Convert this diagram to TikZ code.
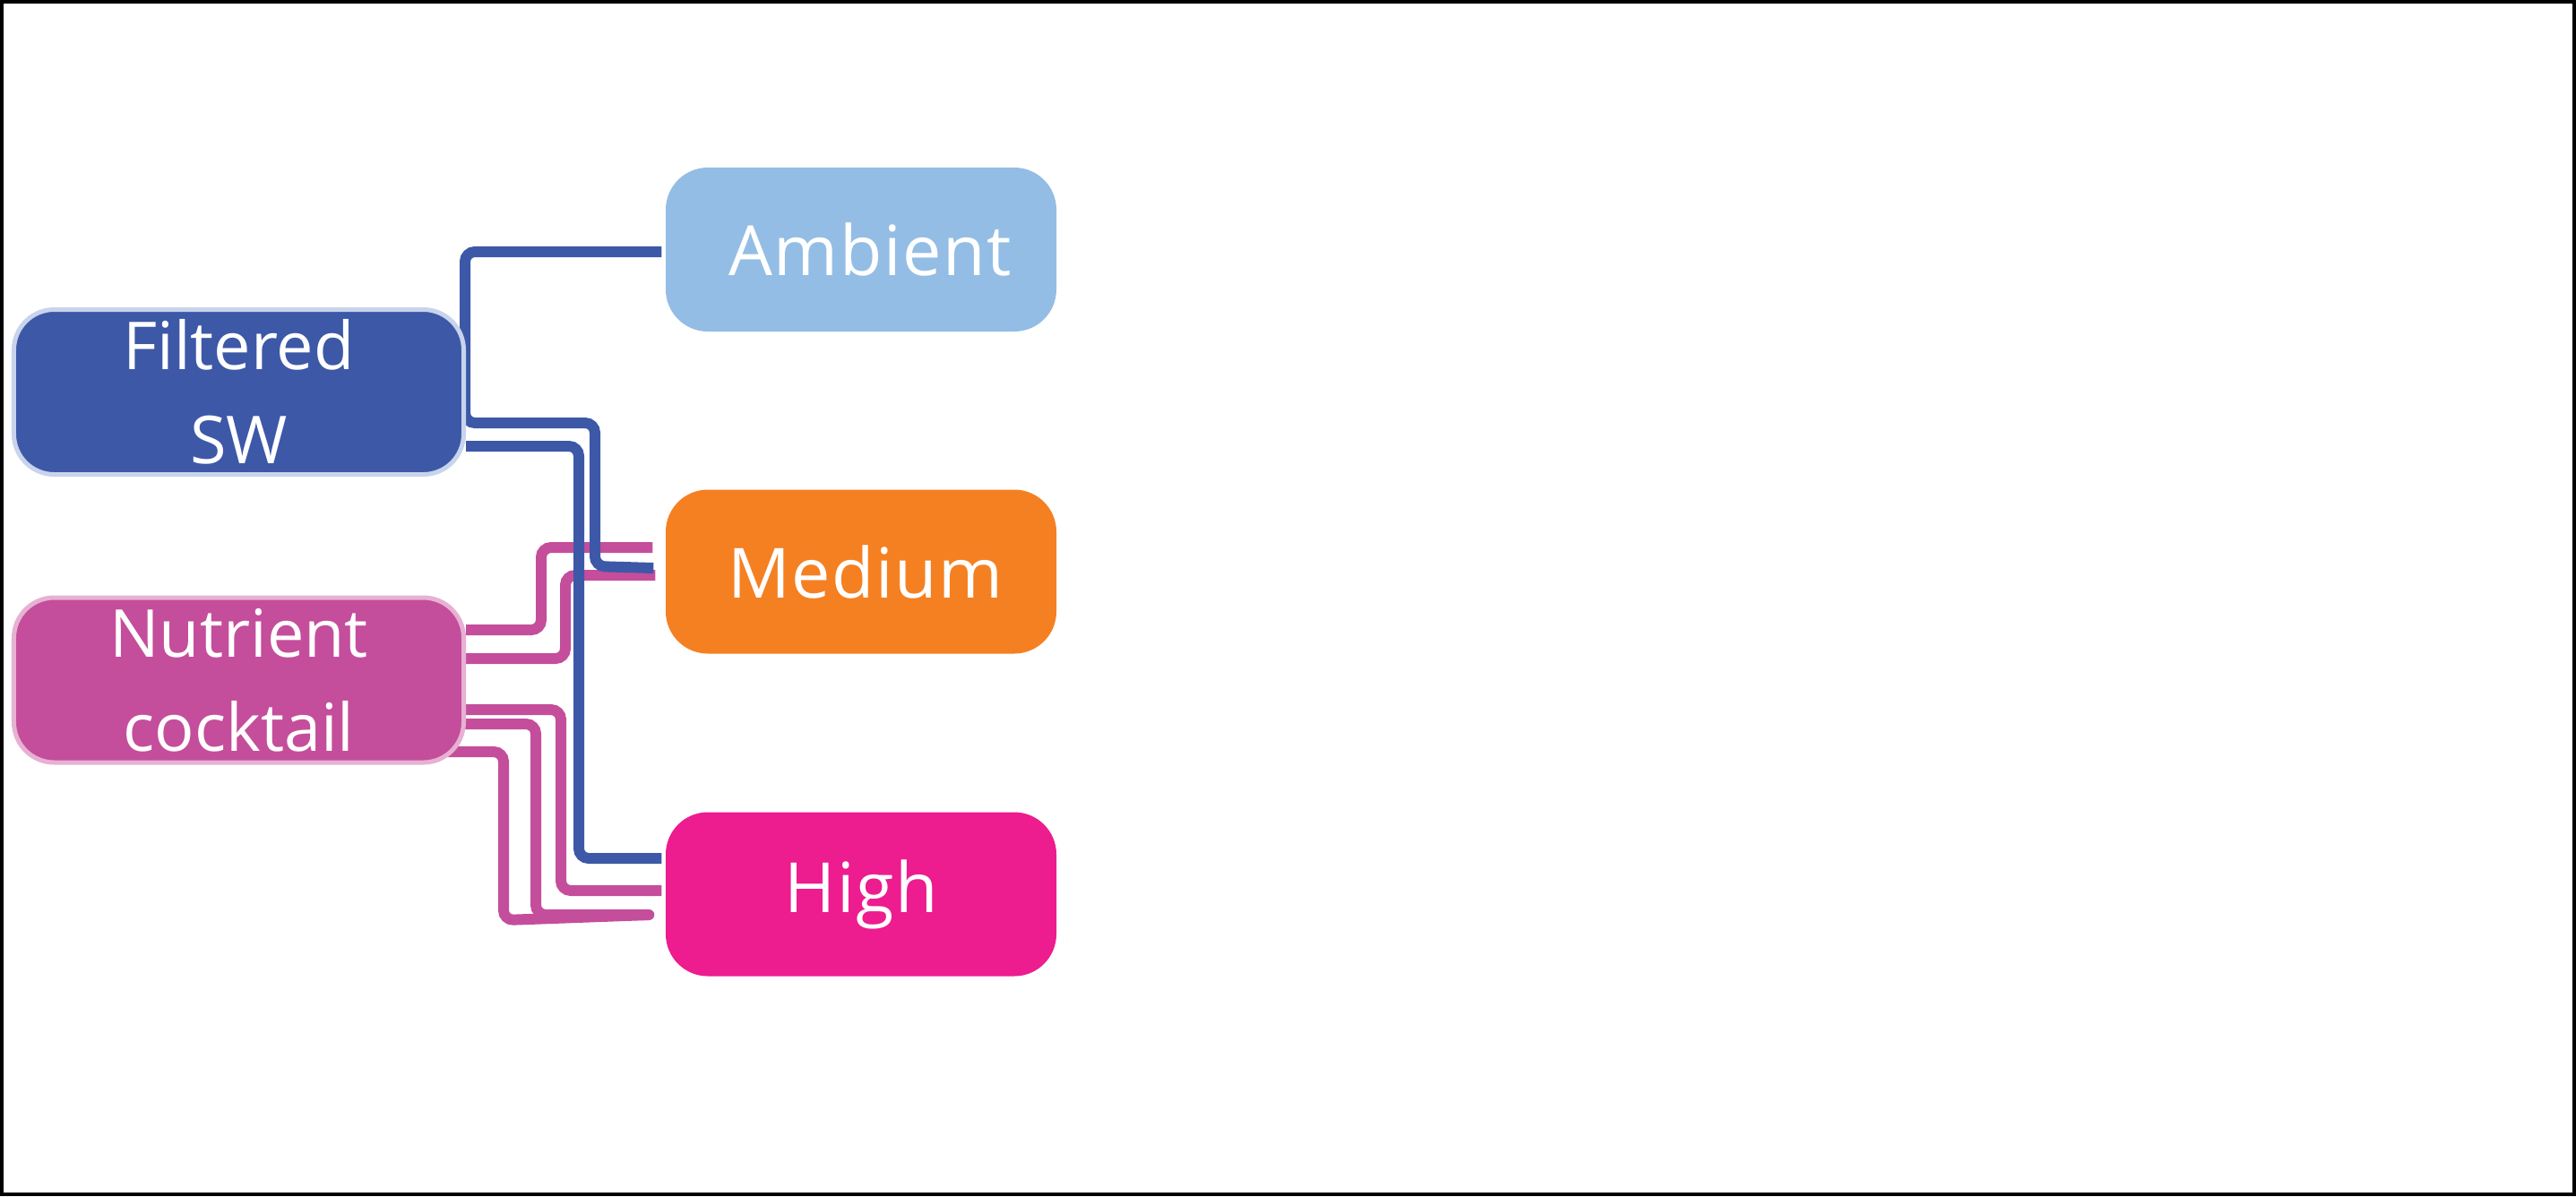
\documentclass[tikz,border=0pt]{standalone}
\usepackage{fontspec}
\setmainfont{Open Sans}
\pgfdeclarelayer{bg}
\pgfsetlayers{bg,main}
\definecolor{swblue}{HTML}{3D58A7}
\definecolor{swedge}{HTML}{C8D4EC}
\definecolor{nutpink}{HTML}{C44E9B}
\definecolor{nutedge}{HTML}{E6B1D3}
\definecolor{ambcol}{HTML}{93BDE4}
\definecolor{medcol}{HTML}{F58021}
\definecolor{highcol}{HTML}{ED1C8F}
\tikzset{
  leftbox/.style={rounded corners=0.45cm, minimum width=5.02cm, minimum height=1.84cm,
    inner sep=0pt, text=white, align=center, line width=0.05cm,
    font=\fontsize{21}{29.9}\selectfont},
  rightbox/.style={rounded corners=0.47cm, minimum width=4.36cm, minimum height=1.83cm,
    inner sep=0pt, text=white, align=center, font=\fontsize{22}{26}\selectfont},
  wire/.style={line width=0.12cm, rounded corners=0.11cm},
}
\begin{document}
\begin{tikzpicture}[x=1cm,y=1cm]
\useasboundingbox (0,0) rectangle (28.75,-13.35);
\draw[line width=0.04cm] (0.02,-0.02) rectangle (28.73,-13.33);

\node[leftbox, fill=swblue, draw=swedge] (filt) at (2.665,-4.375) {Filtered\\SW};
\node[leftbox, fill=nutpink, draw=nutedge] (nut) at (2.665,-7.59) {Nutrient\\cocktail};
\node[rightbox, fill=ambcol] (amb) at (9.61,-2.785) {\hspace*{0.2cm}\addfontfeatures{LetterSpace=2}Ambient};
\node[rightbox, fill=medcol] (med) at (9.61,-6.38) {\hspace*{0.1cm}\addfontfeatures{LetterSpace=2}Medium};
\node[rightbox, fill=highcol] (high) at (9.61,-9.98) {\addfontfeatures{LetterSpace=2}High};

\begin{pgfonlayer}{bg}
% pink connectors
\draw[wire, nutpink] ([yshift=0.56cm]nut.east) -- (6.04,-7.03) -- (6.04,-6.11)
  -- ([xshift=-0.14cm,yshift=0.27cm]med.west);
\draw[wire, nutpink] ([yshift=0.24cm]nut.east) -- (6.31,-7.35) -- (6.31,-6.42)
  -- ([xshift=-0.11cm,yshift=-0.04cm]med.west);
\draw[wire, nutpink] ([yshift=-0.33cm]nut.east) -- (6.26,-7.92) -- (6.26,-9.94)
  -- ([xshift=-0.04cm,yshift=0.04cm]high.west);
\coordinate (pend) at ([xshift=-0.18cm,yshift=-0.23cm]high.west);
\draw[wire, nutpink, line cap=round] ([yshift=-0.49cm]nut.east) -- (5.98,-8.08) -- (5.98,-10.21)
  -- (pend);
\draw[wire, nutpink] ([xshift=-0.2cm,yshift=-0.80cm]nut.east) -- (5.62,-8.39) -- (5.62,-10.27)
  -- (pend);
% blue connectors
\draw[wire, swblue] ([xshift=-0.04cm,yshift=-0.025cm]amb.west) -- (5.19,-2.81) -- (5.19,-4.72)
  -- (6.64,-4.72) -- (6.64,-6.32) -- ([xshift=-0.13cm,yshift=0.04cm]med.west);
\draw[wire, swblue] ([yshift=-0.605cm]filt.east) -- (6.46,-4.98) -- (6.46,-9.58)
  -- ([xshift=-0.04cm,yshift=0.40cm]high.west);
\end{pgfonlayer}
\end{tikzpicture}
\end{document}
